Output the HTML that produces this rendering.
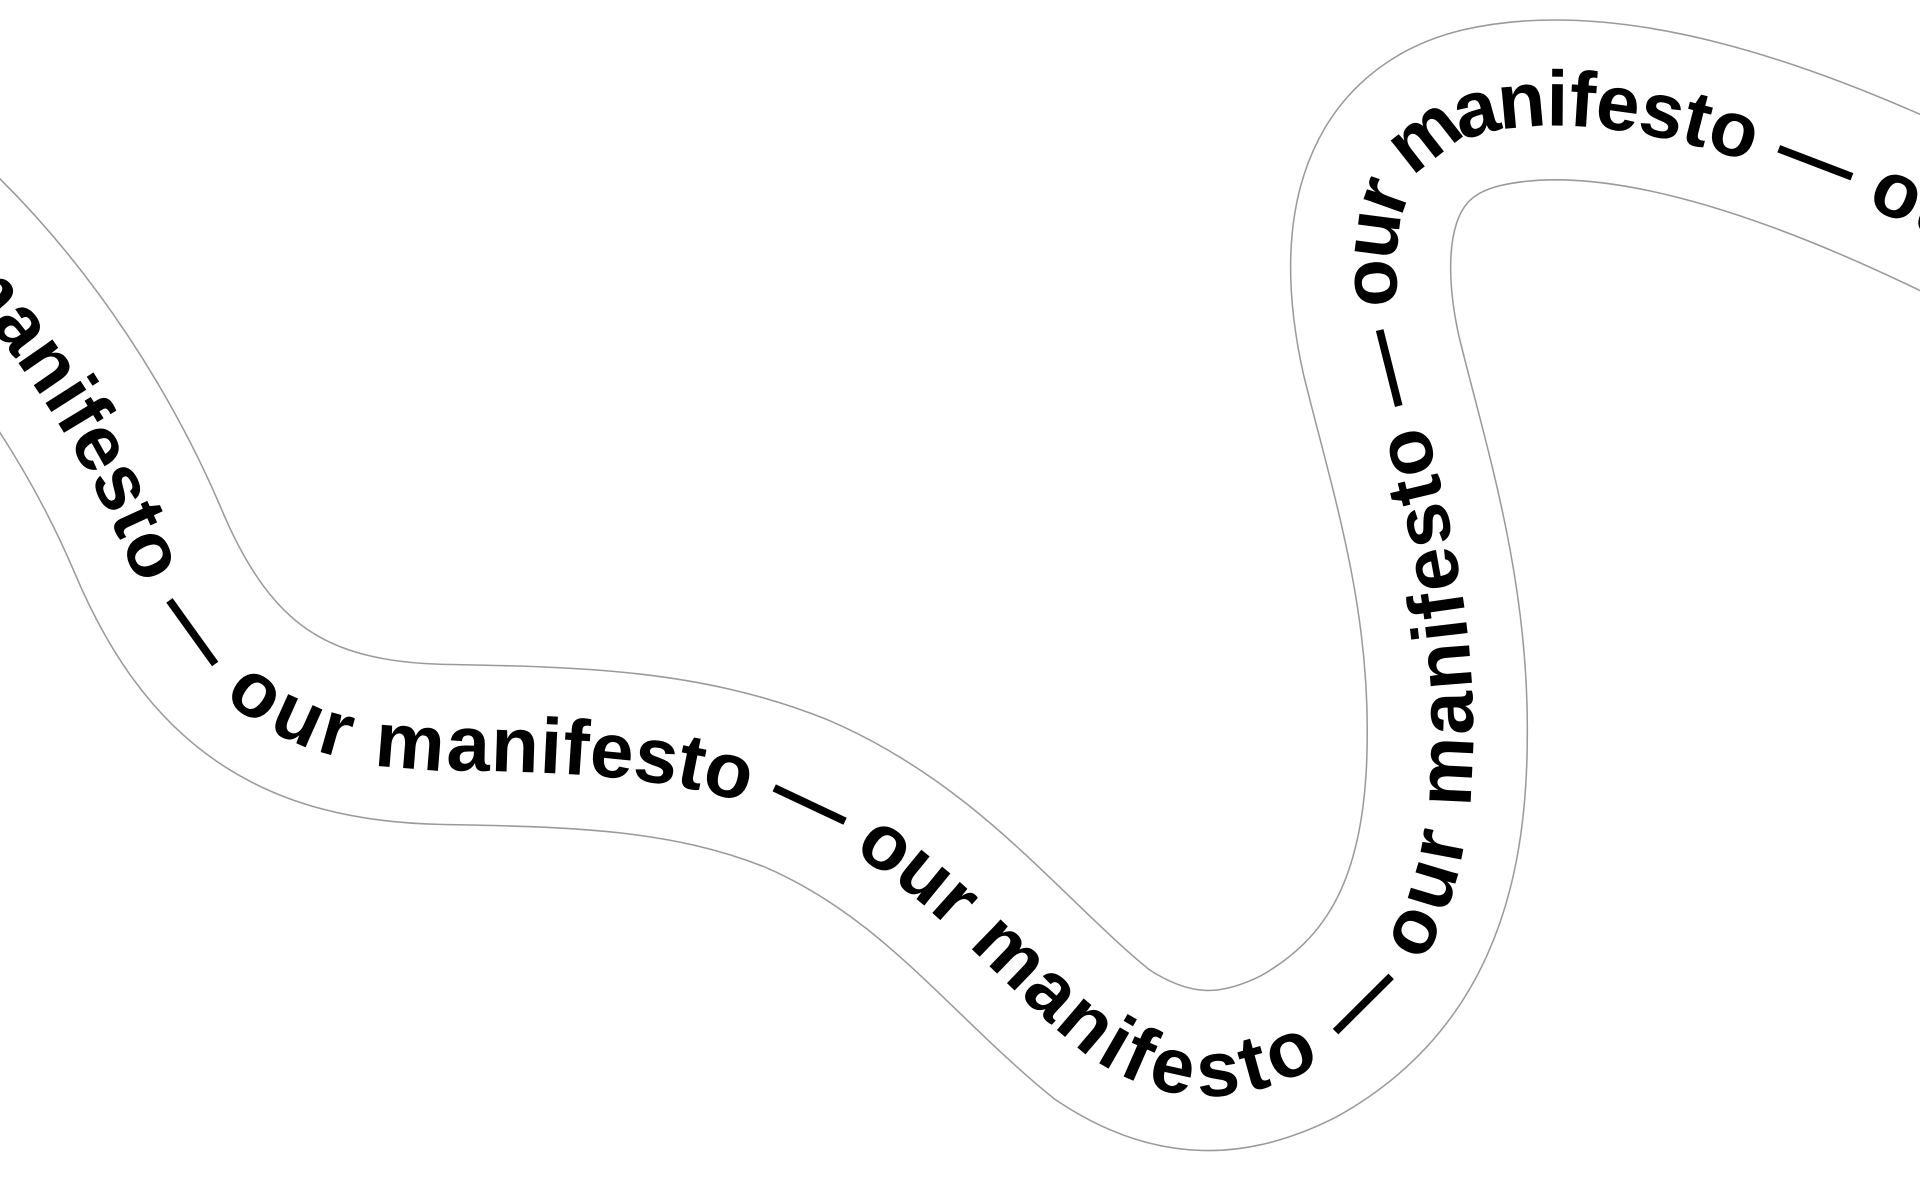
<!DOCTYPE html>
<html><head><meta charset="utf-8"><style>
html,body{margin:0;padding:0;background:#fff;width:1920px;height:1190px;overflow:hidden}
svg{display:block}
</style></head><body>
<svg width="1920" height="1190" viewBox="0 0 1568 972" xmlns="http://www.w3.org/2000/svg">
<defs>
<path id="center" d="M -70,170 C 30,260 90,370 120,440 C 170,560 240,605 360,608 C 470,610 560,612 650,648 C 760,695 820,780 900,845 C 960,885 1010,880 1060,855 C 1150,805 1182,720 1182,600 C 1183,480 1150,380 1128,290 C 1108,200 1118,110 1210,88 C 1310,65 1450,105 1620,190"/>
</defs>
<use href="#center" fill="none" stroke="#9a9a9a" stroke-width="132"/>
<use href="#center" fill="none" stroke="#fff" stroke-width="129.5"/>
<text font-family="Liberation Sans, sans-serif" font-weight="bold" font-size="64" letter-spacing="1" fill="#000" dy="21">
<textPath href="#center" startOffset="-70">our manifesto — our manifesto — our manifesto — our manifesto — our manifesto — our manifesto — our manifesto —</textPath>
</text>
</svg>
</body></html>
